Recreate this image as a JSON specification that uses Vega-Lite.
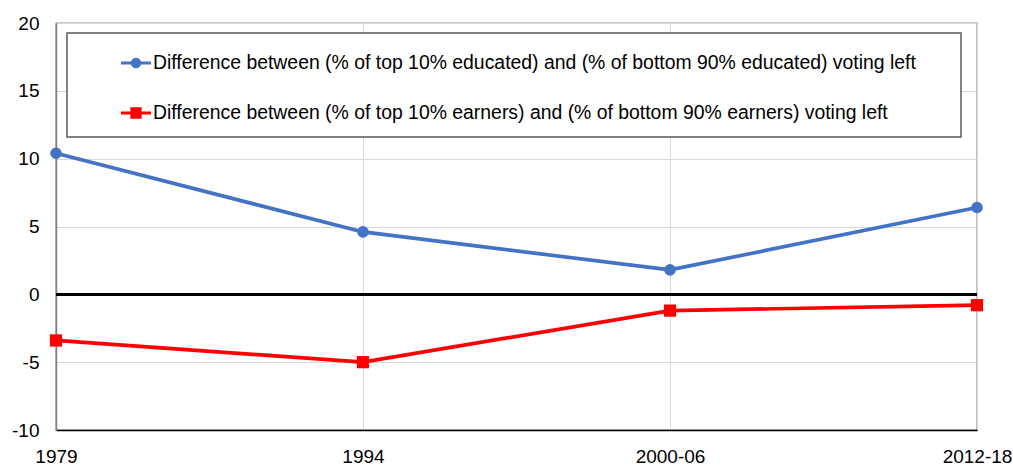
{
  "$schema": "https://vega.github.io/schema/vega-lite/v6.json",
  "width": 921,
  "height": 407,
  "autosize": {"type": "none"},
  "padding": {"left": 56, "top": 23, "right": 36, "bottom": 36},
  "background": "white",
  "config": {
    "font": "Liberation Sans",
    "view": {"stroke": "#262626", "strokeWidth": 1.2}
  },
  "data": {
    "values": [
      {"period": "1979", "series": "Difference between (% of top 10% educated) and (% of bottom 90% educated) voting left", "value": 10.4},
      {"period": "1994", "series": "Difference between (% of top 10% educated) and (% of bottom 90% educated) voting left", "value": 4.6},
      {"period": "2000-06", "series": "Difference between (% of top 10% educated) and (% of bottom 90% educated) voting left", "value": 1.8},
      {"period": "2012-18", "series": "Difference between (% of top 10% educated) and (% of bottom 90% educated) voting left", "value": 6.4},
      {"period": "1979", "series": "Difference between (% of top 10% earners) and (% of bottom 90% earners) voting left", "value": -3.4},
      {"period": "1994", "series": "Difference between (% of top 10% earners) and (% of bottom 90% earners) voting left", "value": -5.0},
      {"period": "2000-06", "series": "Difference between (% of top 10% earners) and (% of bottom 90% earners) voting left", "value": -1.2},
      {"period": "2012-18", "series": "Difference between (% of top 10% earners) and (% of bottom 90% earners) voting left", "value": -0.8}
    ]
  },
  "encoding": {
    "x": {
      "field": "period", "type": "ordinal",
      "sort": ["1979", "1994", "2000-06", "2012-18"],
      "scale": {"type": "point", "padding": 0},
      "axis": {
        "title": null, "labelAngle": 0, "ticks": false,
        "labelFontSize": 19, "labelColor": "#000", "labelPadding": 17,
        "domainColor": "#000", "domainWidth": 1.5,
        "grid": true, "gridColor": "#d9d9d9", "gridWidth": 1
      }
    },
    "y": {
      "field": "value", "type": "quantitative",
      "scale": {"domain": [-10, 20], "nice": false},
      "axis": {
        "title": null, "values": [-10, -5, 0, 5, 10, 15, 20], "ticks": false,
        "labelExpr": "datum.value < 0 ? '-' + abs(datum.value) : '' + datum.value",
        "labelFontSize": 19, "labelColor": "#000", "labelPadding": 17,
        "domainColor": "#808080", "domainWidth": 1.5,
        "grid": true, "gridColor": "#d9d9d9", "gridWidth": 1
      }
    },
    "color": {
      "field": "series", "type": "nominal",
      "scale": {
        "domain": ["Difference between (% of top 10% educated) and (% of bottom 90% educated) voting left", "Difference between (% of top 10% earners) and (% of bottom 90% earners) voting left"],
        "range": ["#4472C4", "#FF0000"]
      },
      "legend": {
        "title": " ", "titleOrient": "right", "titlePadding": 32, "titleFontSize": 10,
        "orient": "none", "legendX": 11, "legendY": 10,
        "direction": "vertical", "fillColor": "white", "strokeColor": "#595959",
        "padding": 13, "rowPadding": 23,
        "labelFontSize": 19.4, "labelColor": "#000", "labelLimit": 0, "labelOffset": 0,
        "symbolSize": 900, "symbolStrokeWidth": 3, "symbolOffset": 39,
        "encode": {
          "legend": {"update": {"strokeWidth": {"value": 1.5}}},
          "symbols": {
            "update": {
              "shape": {"signal": "test(regexp('educated'), datum.value) ? 'M-1,0L1,0M-0.24,0A0.24,0.24,0,1,1,0.24,0A0.24,0.24,0,1,1,-0.24,0Z' : 'M-1,0L1,0M-0.27,-0.27L0.27,-0.27L0.27,0.27L-0.27,0.27Z'"},
              "fill": {"scale": "color", "field": "value"},
              "stroke": {"scale": "color", "field": "value"},
              "strokeWidth": {"value": 3.2},
              "opacity": {"value": 1}
            }
          }
        }
      }
    }
  },
  "layer": [
    {
      "mark": {"type": "rule", "color": "#000", "strokeWidth": 2.5},
      "encoding": {"y": {"datum": 0}, "x": {"value": 0}, "x2": {"value": 921}, "color": {"value": "#000"}}
    },
    {
      "mark": {"type": "line", "strokeWidth": 3.7}
    },
    {
      "transform": [{"filter": {"field": "series", "equal": "Difference between (% of top 10% educated) and (% of bottom 90% educated) voting left"}}],
      "mark": {"type": "point", "filled": true, "opacity": 1, "shape": "circle", "size": 135}
    },
    {
      "transform": [{"filter": {"field": "series", "equal": "Difference between (% of top 10% earners) and (% of bottom 90% earners) voting left"}}],
      "mark": {"type": "point", "filled": true, "opacity": 1, "shape": "square", "size": 150}
    }
  ]
}
